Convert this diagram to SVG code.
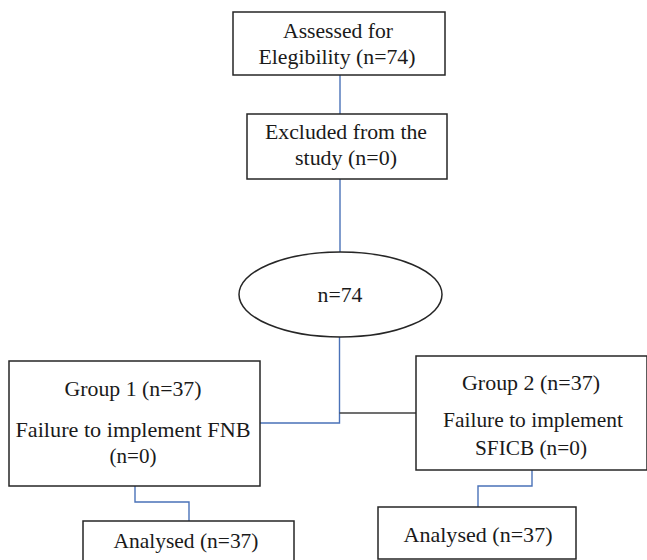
<svg xmlns="http://www.w3.org/2000/svg" width="647" height="560" viewBox="0 0 647 560">
  <style>
    .box { fill: #ffffff; stroke: #262626; stroke-width: 1.5; }
    .t { font-family: "Liberation Serif", "Times New Roman", serif; font-size: 22px; fill: #1a1a1a; text-anchor: middle; }
    .cb { fill: none; stroke: #4a72b8; stroke-width: 1.4; }
    .cd { fill: none; stroke: #404040; stroke-width: 1.4; }
  </style>
  <rect width="647" height="560" fill="#ffffff"/>
  <g id="connectors">
    <line class="cb" x1="340" y1="75" x2="340" y2="114"/>
    <line class="cb" x1="340" y1="179" x2="340" y2="252"/>
    <polyline class="cb" points="339.5,337 339.5,423 260,423"/>
    <line class="cd" x1="339.5" y1="413" x2="416" y2="413"/>
    <polyline class="cb" points="135,486 135,502 189,502 189,521"/>
    <polyline class="cb" points="532,470 532,486 478,486 478,507"/>
  </g>
  <g id="assessed">
    <rect class="box" x="233" y="12" width="212" height="63"/>
    <text class="t" x="338" y="38" textLength="110" lengthAdjust="spacingAndGlyphs">Assessed for</text>
    <text class="t" x="337" y="64" textLength="157" lengthAdjust="spacingAndGlyphs">Elegibility  (n=74)</text>
  </g>
  <g id="excluded">
    <rect class="box" x="247" y="114" width="200" height="65"/>
    <text class="t" x="346" y="139" textLength="162" lengthAdjust="spacingAndGlyphs">Excluded  from  the</text>
    <text class="t" x="346" y="165" textLength="102" lengthAdjust="spacingAndGlyphs">study  (n=0)</text>
  </g>
  <g id="total">
    <ellipse fill="#ffffff" stroke="#262626" stroke-width="1.5" cx="340.5" cy="294.5" rx="101.5" ry="42.5"/>
    <text class="t" x="340" y="302" textLength="45" lengthAdjust="spacingAndGlyphs">n=74</text>
  </g>
  <g id="group1">
    <rect class="box" x="9" y="361" width="251" height="125"/>
    <text class="t" x="133" y="396" textLength="137" lengthAdjust="spacingAndGlyphs">Group  1 (n=37)</text>
    <text class="t" x="133" y="437" textLength="235" lengthAdjust="spacingAndGlyphs">Failure  to implement  FNB</text>
    <text class="t" x="133" y="463" textLength="47" lengthAdjust="spacingAndGlyphs">(n=0)</text>
  </g>
  <g id="group2">
    <rect class="box" x="416" y="356" width="231" height="114"/>
    <text class="t" x="531" y="390" textLength="138" lengthAdjust="spacingAndGlyphs">Group  2 (n=37)</text>
    <text class="t" x="533" y="427" textLength="180" lengthAdjust="spacingAndGlyphs">Failure  to implement</text>
    <text class="t" x="531" y="455" textLength="112" lengthAdjust="spacingAndGlyphs">SFICB (n=0)</text>
  </g>
  <g id="analysed1">
    <rect class="box" x="83" y="521" width="211" height="45"/>
    <text class="t" x="186" y="548" textLength="145" lengthAdjust="spacingAndGlyphs">Analysed  (n=37)</text>
  </g>
  <g id="analysed2">
    <rect class="box" x="378" y="507" width="198" height="52"/>
    <text class="t" x="478" y="542" textLength="149" lengthAdjust="spacingAndGlyphs">Analysed  (n=37)</text>
  </g>
</svg>
